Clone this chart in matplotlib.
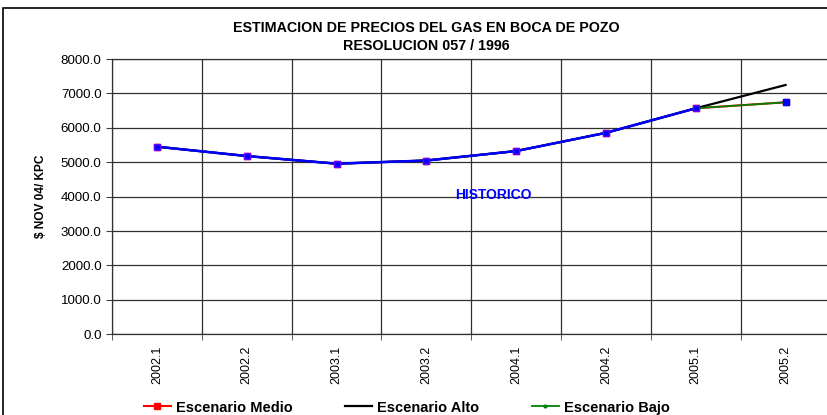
import numpy as np
import matplotlib.pyplot as plt
from matplotlib.patches import Rectangle

plt.rcParams['font.family'] = ['Liberation Sans', 'DejaVu Sans']

periods = ['2002.1', '2002.2', '2003.1', '2003.2', '2004.1', '2004.2', '2005.1', '2005.2']
historico = [5452, 5180, 4958, 5050, 5325, 5855, 6568]
medio = [5452, 5180, 4958, 5050, 5325, 5855, 6568, 6742]
alto = [5452, 5180, 4958, 5050, 5325, 5855, 6568, 7245]
bajo = [5452, 5180, 4958, 5050, 5325, 5855, 6568, 6742]


def main():
    fig = plt.figure(figsize=(8.27, 4.15), dpi=100)
    ax = fig.add_axes([112 / 827, 1 - 334.3 / 415, 718.5 / 827, 275.3 / 415])

    x = np.arange(len(periods))
    ax.plot(x, medio, color='red', lw=1.5, marker='s', ms=5, label='Escenario Medio')
    ax.plot(x, alto, color='black', lw=1.6, label='Escenario Alto')
    ax.plot(x, bajo, color='green', lw=1.3, marker='o', ms=2, label='Escenario Bajo')
    # historic part drawn on top in blue
    ax.plot(x[:len(historico)], historico, color='blue', lw=1.8, marker='s', ms=5,
            markeredgecolor='#6a00ff', zorder=5)
    ax.plot(x[-1], medio[-1], color='blue', marker='s', ms=5, zorder=5)

    ax.set_xlim(-0.5, len(periods) - 0.5)
    ax.set_ylim(0, 8000)
    ax.set_yticks(np.arange(0, 8001, 1000))
    ax.set_yticklabels(['%.1f' % v for v in np.arange(0, 8001, 1000)], fontsize=9.6)
    ax.set_xticks(x)
    ax.set_xticklabels(periods, rotation=90, fontsize=9)
    ax.set_xticks(np.arange(-0.5, len(periods)), minor=True)
    ax.tick_params(axis='x', which='major', length=0, pad=8)
    ax.tick_params(axis='x', which='minor', length=4, color='#404040')
    ax.tick_params(axis='y', length=4.5, color='#404040', pad=3)
    ax.grid(True, which='minor', axis='x', color='#303030', lw=0.9)
    ax.grid(True, which='major', axis='y', color='#303030', lw=0.9)
    for side in ['top', 'right', 'bottom', 'left']:
        ax.spines[side].set_color('#303030')
        ax.spines[side].set_linewidth(0.9)

    ax.set_ylabel('$ NOV 04/ KPC', fontsize=8.6, fontweight='bold', labelpad=10)
    ax.text(3.75, 4050, 'HISTORICO', color='blue', fontsize=10, fontweight='bold',
            ha='center', va='center')

    fig.text(0.515, 0.933, 'ESTIMACION DE PRECIOS DEL GAS EN BOCA DE POZO',
             ha='center', va='center', fontsize=10.3, fontweight='bold')
    fig.text(0.515, 0.89, 'RESOLUCION 057 / 1996',
             ha='center', va='center', fontsize=10.3, fontweight='bold')

    fig.legend(loc='center', bbox_to_anchor=(0.492, 0.018), ncol=3, frameon=False,
               handlelength=1.85, handletextpad=0.35, columnspacing=3.6,
               prop={'weight': 'bold', 'size': 10.5})

    fig.patches.append(Rectangle((3 / 827, -0.1), 1.2, 1.1 - 8 / 415,
                                 transform=fig.transFigure, fill=False,
                                 edgecolor='black', lw=1.2))

    fig.savefig('out.png', dpi=100)


if __name__ == "__main__":
    main()
